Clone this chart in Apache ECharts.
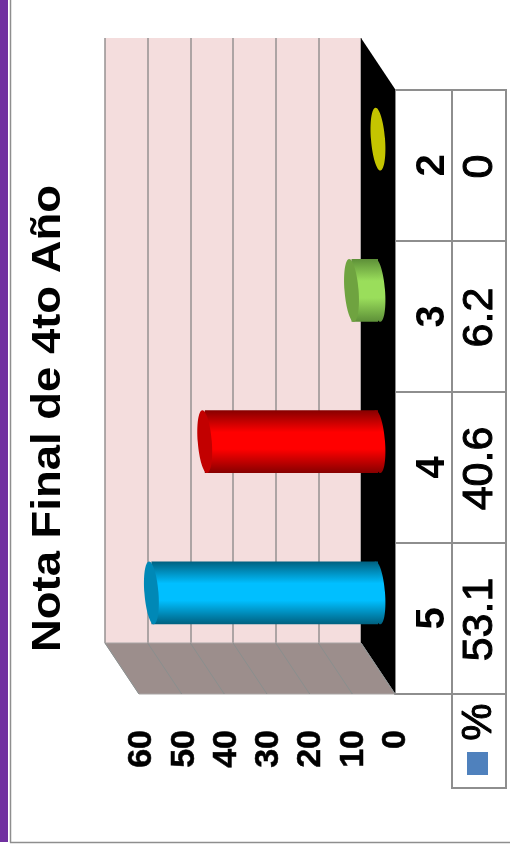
<!DOCTYPE html>
<html>
<head>
<meta charset="utf-8">
<title>Nota Final de 4to Año</title>
<style>
html,body{margin:0;padding:0;background:#fff;}
#m1{width:510px;height:854px;}
</style>
<script src="https://cdn.jsdelivr.net/npm/echarts@6/dist/echarts.min.js"></script>
</head>
<body>
<div id="m1"></div>
<script>
var titleText = 'Nota Final de 4to Año';
var seriesName = '%';
var categories = ['5', '4', '3', '2'];
var percent = [53.1, 40.6, 6.2, 0];
var tableText = ['53.1', '40.6', '6.2', '0'];
var ticks = [0, 10, 20, 30, 40, 50, 60];

// colores de cada barra: borde, centro, tapa
var barEdge = ['#00607f', '#860000', '#5d8f38', '#c4c400'];
var barMid = ['#00bfff', '#ff0000', '#9ade5b', '#c4c400'];
var barCap = ['#0088b6', '#c20000', '#6fa340', '#c4c400'];

// profundidad del falso 3D, en pixeles
var depthX = 34, depthY = 51;
var font = '"Liberation Sans", Arial, sans-serif';

var tableLine = '#8e8e8e';

function renderBox(params, api){
    var g = params.coordSys;
    var r = g.x + g.width, b = g.y + g.height;
    return {type:'group', children:[
        {type:'polygon', shape:{points:[[r,g.y],[r,b],[r+depthX,b+depthY],[r+depthX,g.y+depthY]]},
            style:{fill:'#000'}},
        {type:'polygon', shape:{points:[[g.x,b],[r,b],[r+depthX,b+depthY],[g.x+depthX,b+depthY]]},
            style:{fill:'#9c8e8c', stroke:'#a8a4a4', lineWidth:1}}
    ]};
}

function renderSideLine(params, api){
    var g = params.coordSys;
    var p = api.coord([api.value(0), 0]);
    var b = g.y + g.height;
    return {type:'line', shape:{x1:p[0], y1:b, x2:p[0]+depthX, y2:b+depthY},
        style:{stroke:'#8a8e8e', lineWidth:1}};
}

function renderBar(params, api){
    var i = params.dataIndex;
    var p = api.coord([api.value(0), api.value(1)]);
    var base = api.coord([0, api.value(1)]);
    var ry = api.size([0, 1])[1] * 0.208;
    var rx = 7;
    var x = p[0] + depthX / 2, y = p[1] + depthY / 2, x0 = base[0] + depthX / 2;
    var fill = new echarts.graphic.LinearGradient(0, 0, 0, 1, [
        {offset:0, color:barEdge[i]},
        {offset:0.35, color:barMid[i]},
        {offset:0.62, color:barMid[i]},
        {offset:1, color:barEdge[i]}
    ]);
    var kids = [];
    if(api.value(0) > 0){
        kids.push({type:'ellipse', x:x0, y:y, rotation:0.08, shape:{cx:0, cy:0, rx:rx, ry:ry}, style:{fill:fill}});
        kids.push({type:'rect', shape:{x:x, y:y-ry, width:x0-x, height:ry*2}, style:{fill:fill}});
    }
    kids.push({type:'ellipse', x:x, y:y, rotation:0.08, shape:{cx:0, cy:0, rx:rx, ry:ry}, style:{fill:barCap[i]}});
    return {type:'group', children:kids};
}

function renderTable(params, api){
    var g = params.coordSys;
    var i = params.dataIndex;
    var p = api.coord([0, i]);
    var h = api.size([0, 1])[1];
    var r = g.x + g.width;
    return {type:'group', children:[
        {type:'rect', shape:{x:r, y:p[1]-h/2, width:57, height:h},
            style:{fill:'none', stroke:tableLine, lineWidth:2}},
        {type:'rect', shape:{x:r+57, y:p[1]-h/2, width:54, height:h},
            style:{fill:'none', stroke:tableLine, lineWidth:2}},
        {type:'text', x:r+85, y:p[1]+1, rotation:Math.PI/2, z2:10,
            style:{text:tableText[i], fill:'#000', font:'43px ' + font, align:'center', verticalAlign:'middle',
                stroke:'#000', lineWidth:1}}
    ]};
}

function initChart(){
    var myChart = echarts.init(document.getElementById('m1'));
    var option = {
        animation:false,
        backgroundColor:'#fff',
        textStyle:{fontFamily:font},
        grid:[
            // pared del fondo
            {left:105, width:256, top:38, height:605, show:true, backgroundColor:'#f4dddd', borderWidth:0, outerBoundsMode:'none'},
            // plano frontal: tabla y categorias
            {left:139, width:256, top:90, height:604, show:false, outerBoundsMode:'none'},
            // escala de valores, un poco mas estrecha que la pared
            {left:142, width:253.5, top:90, height:604, show:false, outerBoundsMode:'none'}
        ],
        xAxis:[
            {type:'value', gridIndex:0, inverse:true, min:0, max:60, interval:10,
                axisLine:{show:false}, axisTick:{show:false}, axisLabel:{show:false},
                splitLine:{show:true, lineStyle:{color:'#969191', width:1.5}}},
            {type:'value', gridIndex:1, inverse:true, min:0, max:60, interval:10,
                axisLine:{show:false}, axisTick:{show:false}, axisLabel:{show:false}, splitLine:{show:false}},
            {type:'value', gridIndex:2, inverse:true, min:0, max:60, interval:10,
                axisLine:{show:false}, axisTick:{show:false}, splitLine:{show:false},
                axisLabel:{rotate:90, margin:36, color:'#000', fontFamily:font, fontWeight:'bold', fontSize:34,
                    textBorderColor:'#000', textBorderWidth:0.5}}
        ],
        yAxis:[
            {type:'category', gridIndex:0, data:categories, axisLine:{show:false}, axisTick:{show:false}, axisLabel:{show:false}},
            {type:'category', gridIndex:1, data:categories, position:'right',
                axisLine:{show:false}, axisTick:{show:false},
                axisLabel:{rotate:90, margin:18, color:'#000', fontFamily:font, fontWeight:'bold', fontSize:40}},
            {type:'category', gridIndex:2, data:categories, axisLine:{show:false}, axisTick:{show:false}, axisLabel:{show:false}}
        ],
        series:[
            {type:'custom', name:'caja', xAxisIndex:0, yAxisIndex:0, z:3, silent:true, clip:false,
                renderItem:renderBox, data:[[0, 0]]},
            {type:'custom', name:'lineas', xAxisIndex:0, yAxisIndex:0, z:4, silent:true, clip:false,
                renderItem:renderSideLine, data:ticks.map(function(t){ return [t, 0]; })},
            {type:'custom', name:seriesName, xAxisIndex:0, yAxisIndex:0, z:5, silent:true, clip:false,
                renderItem:renderBar, encode:{x:0, y:1},
                data:percent.map(function(v, i){ return [v, i]; })},
            {type:'custom', name:'tabla', xAxisIndex:1, yAxisIndex:1, z:1, silent:true, clip:false,
                renderItem:renderTable, data:categories.map(function(c, i){ return [0, i]; })}
        ],
        graphic:[
            {type:'rect', z:0, shape:{x:0, y:0, width:8, height:842}, style:{fill:'#7030a0'}},
            {type:'line', z:0, shape:{x1:10.5, y1:0, x2:10.5, y2:842.5}, style:{stroke:'#8e8e8e', lineWidth:1.5}},
            {type:'line', z:0, shape:{x1:10, y1:842.5, x2:510, y2:842.5}, style:{stroke:'#8e8e8e', lineWidth:1.5}},
            {type:'text', x:49, y:418.5, rotation:Math.PI/2, scaleX:1.136, scaleY:1,
                style:{text:titleText, fill:'#000', font:'bold 40px ' + font, align:'center', verticalAlign:'middle'}},
            // celda de la leyenda
            {type:'rect', z:1, shape:{x:452, y:694, width:54, height:94}, style:{fill:'#fff', stroke:tableLine, lineWidth:2}},
            {type:'rect', z:2, shape:{x:467, y:752, width:21, height:23}, style:{fill:'#4f81bd'}},
            {type:'text', z:2, x:479.5, y:722, rotation:Math.PI/2,
                style:{text:seriesName, fill:'#000', font:'42px ' + font, align:'center', verticalAlign:'middle', stroke:'#000', lineWidth:1}}
        ]
    };
    myChart.setOption(option);
}

initChart();
</script>
</body>
</html>
